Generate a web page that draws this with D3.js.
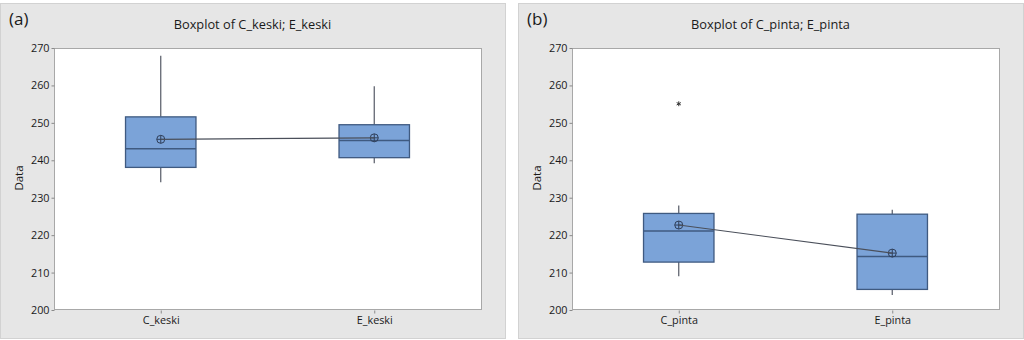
<!DOCTYPE html>
<html>
<head>
<meta charset="utf-8">
<script src="https://cdn.jsdelivr.net/npm/d3@7"></script>
<style>
  html, body { margin: 0; padding: 0; background: #ffffff; }
  svg { display: block; }
  text { font-family: "Open Sans", "Noto Sans", sans-serif; fill: #1a1a1a; }
</style>
</head>
<body>
<svg id="chart" width="1024" height="340"></svg>
<script>
// Panel (a): keski
const catsA = ["C_keski", "E_keski"];
const statsA = [
  { q1: 238.1, median: 243.1, q3: 251.6, lo: 234.1, hi: 267.9, mean: 245.6, outliers: [] },
  { q1: 240.7, median: 245.3, q3: 249.5, lo: 239.2, hi: 259.8, mean: 246.0, outliers: [] }
];
// Panel (b): pinta
const catsB = ["C_pinta", "E_pinta"];
const statsB = [
  { q1: 212.8, median: 221.1, q3: 225.8, lo: 209.0, hi: 227.9, mean: 222.7, outliers: [255.1] },
  { q1: 205.5, median: 214.3, q3: 225.6, lo: 204.0, hi: 226.8, mean: 215.2, outliers: [] }
];
const yTicks = [200, 210, 220, 230, 240, 250, 260, 270];

const svg = d3.select("#chart");

function panel(opts) {
  const g = svg.append("g");
  // grey frame
  g.append("rect")
    .attr("x", opts.fx + 0.5).attr("y", 3.5)
    .attr("width", opts.fw).attr("height", 335)
    .attr("fill", "#e6e6e6").attr("stroke", "#d2d2d2");

  g.append("text").attr("x", opts.fx + 9).attr("y", 25)
    .attr("font-size", 17).text(opts.tag);

  const x = d3.scalePoint().domain(opts.cats).range([opts.left, opts.right]).padding(0.5);
  const y = d3.scaleLinear().domain([200, 270]).range([310, 48]);

  g.append("text").attr("x", opts.fx + opts.fw / 2).attr("y", 29)
    .attr("text-anchor", "middle").attr("font-size", 12.8).text(opts.title);

  // plot area
  g.append("rect")
    .attr("x", opts.left + 0.5).attr("y", 48.5)
    .attr("width", opts.right - opts.left).attr("height", 261)
    .attr("fill", "#ffffff").attr("stroke", "#a8a8a8");

  // y axis
  const ya = g.append("g").attr("transform", `translate(${opts.left + 0.5},0)`)
    .call(d3.axisLeft(y).tickValues(yTicks).tickSize(3).tickPadding(2));
  ya.select(".domain").remove();
  ya.selectAll("line").attr("stroke", "#8a8a8a");
  ya.selectAll("text").attr("font-size", 10.8).attr("fill", "#1a1a1a");

  // x axis
  const xa = g.append("g").attr("transform", `translate(0,310.5)`)
    .call(d3.axisBottom(x).tickSize(3).tickPadding(3));
  xa.select(".domain").remove();
  xa.selectAll("line").attr("stroke", "#8a8a8a");
  xa.selectAll("text").attr("font-size", 10.8).attr("fill", "#1a1a1a");

  g.append("text")
    .attr("transform", `translate(${opts.fx + 23},178) rotate(-90)`)
    .attr("text-anchor", "middle").attr("font-size", 11.5).text("Data");

  const bw = (opts.right - opts.left) * 0.165;
  const data = opts.cats.map((c, i) => ({ cat: c, ...opts.stats[i] }));
  const box = g.selectAll(".box").data(data).join("g").attr("class", "box");

  box.append("line")
    .attr("x1", d => x(d.cat)).attr("x2", d => x(d.cat))
    .attr("y1", d => y(d.q3)).attr("y2", d => y(d.hi))
    .attr("stroke", "#555a66").attr("stroke-width", 1.2);
  box.append("line")
    .attr("x1", d => x(d.cat)).attr("x2", d => x(d.cat))
    .attr("y1", d => y(d.q1)).attr("y2", d => y(d.lo))
    .attr("stroke", "#555a66").attr("stroke-width", 1.2);
  box.append("rect")
    .attr("x", d => x(d.cat) - bw / 2).attr("width", bw)
    .attr("y", d => y(d.q3)).attr("height", d => y(d.q1) - y(d.q3))
    .attr("fill", "#7ba3d8").attr("stroke", "#3f5a80").attr("stroke-width", 1.3);
  box.append("line")
    .attr("x1", d => x(d.cat) - bw / 2).attr("x2", d => x(d.cat) + bw / 2)
    .attr("y1", d => y(d.median)).attr("y2", d => y(d.median))
    .attr("stroke", "#3f5a80").attr("stroke-width", 1.4);

  // line connecting means
  g.append("path")
    .datum(data)
    .attr("d", d3.line().x(d => x(d.cat)).y(d => y(d.mean)))
    .attr("fill", "none").attr("stroke", "#4a4f5a").attr("stroke-width", 1.1);

  // mean symbols (circle with cross)
  const m = box.append("g").attr("transform", d => `translate(${x(d.cat)},${y(d.mean)})`);
  m.append("circle").attr("r", 4).attr("fill", "none").attr("stroke", "#2f3f5a").attr("stroke-width", 1);
  m.append("path").attr("d", "M-4,0H4M0,-4V4").attr("stroke", "#2f3f5a").attr("stroke-width", 1);

  // outliers
  box.selectAll(".out").data(d => d.outliers.map(v => ({ cat: d.cat, v })))
    .join("path").attr("class", "out")
    .attr("transform", d => `translate(${x(d.cat)},${y(d.v)})`)
    .attr("d", d3.symbol(d3.symbolAsterisk, 16))
    .attr("fill", "none").attr("stroke", "#333").attr("stroke-width", 1);
}

panel({ fx: 0, fw: 505, left: 54, right: 481, cats: catsA, stats: statsA,
        tag: "(a)", title: "Boxplot of C_keski; E_keski" });
panel({ fx: 518, fw: 505, left: 572, right: 999, cats: catsB, stats: statsB,
        tag: "(b)", title: "Boxplot of C_pinta; E_pinta" });
</script>
</body>
</html>
